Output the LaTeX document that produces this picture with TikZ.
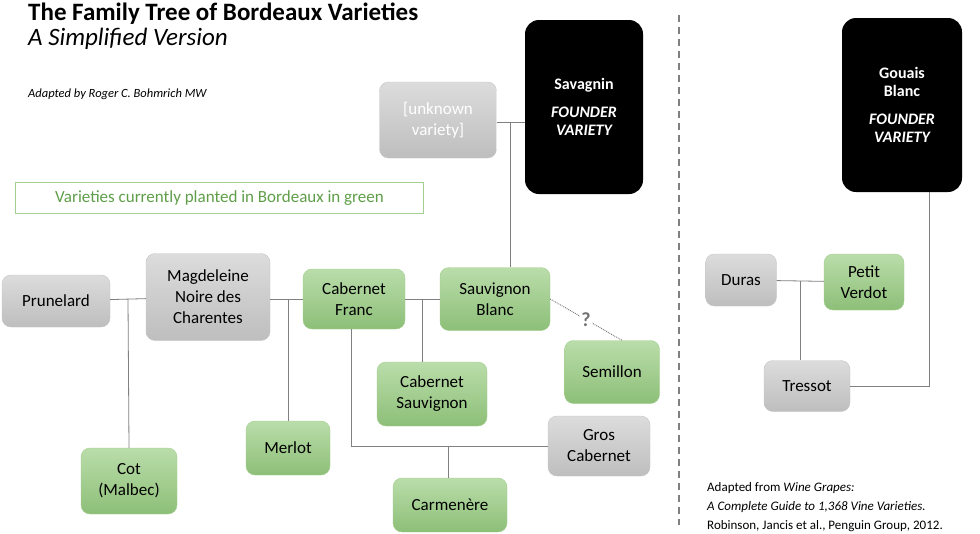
\documentclass[tikz,border=0pt]{standalone}
\usepackage{fontspec}
\setmainfont{Carlito}
\usetikzlibrary{positioning,calc}
\definecolor{grtop}{HTML}{BADDAA}
\definecolor{grbot}{HTML}{8DBF78}
\definecolor{grline}{HTML}{A3CF90}
\definecolor{gytop}{HTML}{DCDCDC}
\definecolor{gybot}{HTML}{BEBEBE}
\definecolor{legend}{HTML}{5E9E48}
\begin{document}
\begin{tikzpicture}[
x=1pt, y=-1pt,
green/.style={
  rectangle,
  rounded corners=9pt,
  draw=grline,
  top color=grtop,
  bottom color=grbot,
  align=center,
  font=\fontsize{17}{21}\selectfont,
  inner sep=2pt
  },
grey/.style={
  green,
  draw=gybot!90,
  top color=gytop,
  bottom color=gybot
  },
founder/.style={
  rectangle,
  rounded corners=14pt,
  fill=black,
  text=white,
  align=center,
  font=\fontsize{16}{24}\selectfont\bfseries
  },
link/.style={
  draw=black!50,
  line width=0.8pt
  }
]
\useasboundingbox (0,0) rectangle (980,533);
% titles
\node[anchor=north west, inner sep=0pt, align=left] (title) at (28,3)
  {\fontsize{25}{30}\selectfont\bfseries The Family Tree of Bordeaux Varieties\\[2pt]
   \fontsize{25}{30}\selectfont\itshape A Simplified Version};
\node[anchor=west, inner sep=0pt] (author) at (28,94)
  {\fontsize{12.5}{15}\selectfont\itshape Adapted by Roger C. Bohmrich MW};
\node[draw=grline, line width=1pt, text=legend, anchor=west, minimum width=408pt,
  minimum height=31pt, font=\fontsize{17}{20}\selectfont] (legend) at (15,198)
  {Varieties currently planted in Bordeaux in green};
\node[anchor=north west, inner sep=0pt, align=left, font=\fontsize{13}{19}\selectfont] (source) at (707,482)
  {Adapted from \textit{Wine Grapes:}\\ \textit{A Complete Guide to 1,368 Vine Varieties.}\\
   Robinson, Jancis et al., Penguin Group, 2012.};
\draw[black!50, line width=2.5pt, dash pattern=on 7pt off 5pt] (679,15) -- (679,525);
% varieties
\node[grey, minimum width=108pt, minimum height=52pt] (prun) at (56,301) {Prunelard};
\node[grey, minimum width=124pt, minimum height=87pt] (magd) at (208,297) {Magdeleine\\Noire des\\Charentes};
\node[green, minimum width=102pt, minimum height=60pt] (cfranc) at (354,299) {Cabernet\\Franc};
\node[green, minimum width=110pt, minimum height=63pt] (sblanc) at (495,299) {Sauvignon\\Blanc};
\node[green, minimum width=110pt, minimum height=64pt] (csauv) at (432,394) {Cabernet\\Sauvignon};
\node[green, minimum width=95pt, minimum height=63pt] (semil) at (612,372) {Semillon};
\node[grey, minimum width=102pt, minimum height=60pt] (gros) at (599,446) {Gros\\Cabernet};
\node[green, minimum width=114pt, minimum height=54pt] (carm) at (450,505) {Carmenère};
\node[green, minimum width=84pt, minimum height=54pt] (merlot) at (288,448) {Merlot};
\node[green, minimum width=96pt, minimum height=66pt] (cot) at (129,481) {Cot\\(Malbec)};
\node[grey, minimum width=117pt, minimum height=76pt, text=white] (unknown) at (438,120) {[unknown\\variety]};
\node[founder, minimum width=118pt, minimum height=174pt] (savag) at (584,107) {Savagnin\\[4pt]\itshape FOUNDER\\[-6pt]\itshape VARIETY};
\node[founder, minimum width=120pt, minimum height=174pt] (gouais) at (902,105) {Gouais\\[-6pt]Blanc\\[4pt]\itshape FOUNDER\\[-6pt]\itshape VARIETY};
\node[grey, minimum width=71pt, minimum height=52pt] (duras) at (741,280) {Duras};
\node[green, minimum width=80pt, minimum height=56pt] (pverdot) at (864,282) {Petit\\Verdot};
\node[grey, minimum width=86pt, minimum height=51pt] (tressot) at (807,386) {Tressot};
% links
\draw[link] (prun) -- (magd);
\draw[link] ($(prun.east)!0.5!(magd.west)$) -- (cot.north);
\draw[link] (magd.east |- cfranc) -- (cfranc);
\draw[link] (merlot.north) -- (merlot.north |- cfranc);
\draw[link] (cfranc) -- (sblanc);
\draw[link] ($(cfranc.east)!0.5!(sblanc.west)$) -- (csauv.north -| {$(cfranc.east)!0.5!(sblanc.west)$});
\draw[link] (unknown.east |- 0,122) -- (savag.west |- 0,122);
\coordinate (knot) at (510,122);
\draw[link] (knot) -- (knot |- sblanc.north);
\draw[black!55, densely dotted, line width=0.9pt] (sblanc.east) -- node[font=\fontsize{20}{20}\selectfont\bfseries, fill=white, inner sep=1pt] (q) {?} ($(semil.north)+(10,0)$);
\coordinate (cfbase) at (351,446);
\draw[link] (cfranc.south -| cfbase) -- (cfbase) -- (gros.west |- cfbase);
\draw[link] (carm.north -| 448,0) -- (448,446);
\draw[link] (duras) -- (pverdot);
\draw[link] ($(duras.east)!0.5!(pverdot.west)$) -- (tressot.north -| {$(duras.east)!0.5!(pverdot.west)$});
\draw[link] (gouais.south -| 929,0) |- (tressot.east);
\end{tikzpicture}
\end{document}
